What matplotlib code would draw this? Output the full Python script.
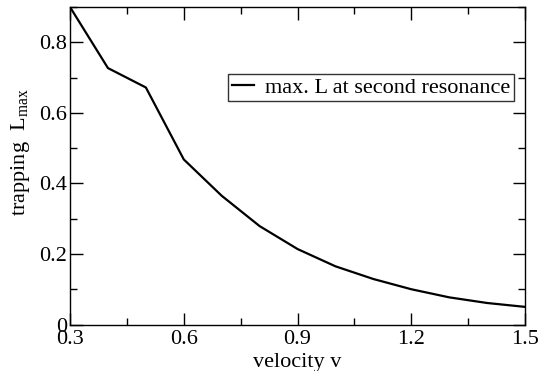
import matplotlib
matplotlib.use('Agg')
import matplotlib.pyplot as plt
from matplotlib.ticker import MultipleLocator

plt.rcParams['font.family'] = ['Liberation Serif', 'DejaVu Serif']
plt.rcParams['mathtext.fontset'] = 'custom'
plt.rcParams['mathtext.rm'] = 'Liberation Serif'

velocity = [0.3, 0.4, 0.5, 0.6, 0.7, 0.8, 0.9, 1.0, 1.1, 1.2, 1.3, 1.4, 1.5]
l_max = [0.90, 0.727, 0.672, 0.468, 0.365, 0.279, 0.214, 0.165, 0.129, 0.100, 0.077, 0.061, 0.050]

fig = plt.figure(figsize=(5.42, 3.71), dpi=100)
ax = fig.add_axes([0.1292, 0.1253, 0.8395, 0.8557])
ax.plot(velocity, l_max, color='black', lw=1.6, label='max. L at second resonance')

ax.set_xlim(0.3, 1.5)
ax.set_ylim(0, 0.9)
ax.xaxis.set_minor_locator(MultipleLocator(0.15))
ax.yaxis.set_minor_locator(MultipleLocator(0.1))
ax.set_xticks([0.3, 0.6, 0.9, 1.2, 1.5])
ax.set_xticklabels(['0.3', '0.6', '0.9', '1.2', '1.5'])
ax.set_yticks([0, 0.2, 0.4, 0.6, 0.8])
ax.set_yticklabels(['0', '0.2', '0.4', '0.6', '0.8'])
ax.tick_params(which='both', direction='in', top=True, right=True, labelsize=16, width=1)
ax.tick_params(which='major', length=9)
ax.tick_params(which='minor', length=5)
ax.tick_params(axis='x', pad=4)
ax.tick_params(axis='y', pad=2)
for s in ax.spines.values():
    s.set_linewidth(1)

ax.set_xlabel('velocity v', fontsize=16, labelpad=3)
ax.set_ylabel(r'trapping  L$_{\rm max}$', fontsize=16)
ax.yaxis.set_label_coords(-0.083, 0.543)

leg = ax.legend(loc='upper right', bbox_to_anchor=(0.975, 0.789), fontsize=16,
                frameon=True, fancybox=False, edgecolor='black', handlelength=1.0,
                handletextpad=0.5, borderpad=0.15, borderaxespad=0.0)
leg.get_frame().set_linewidth(1)

fig.savefig('out.png', dpi=100)
